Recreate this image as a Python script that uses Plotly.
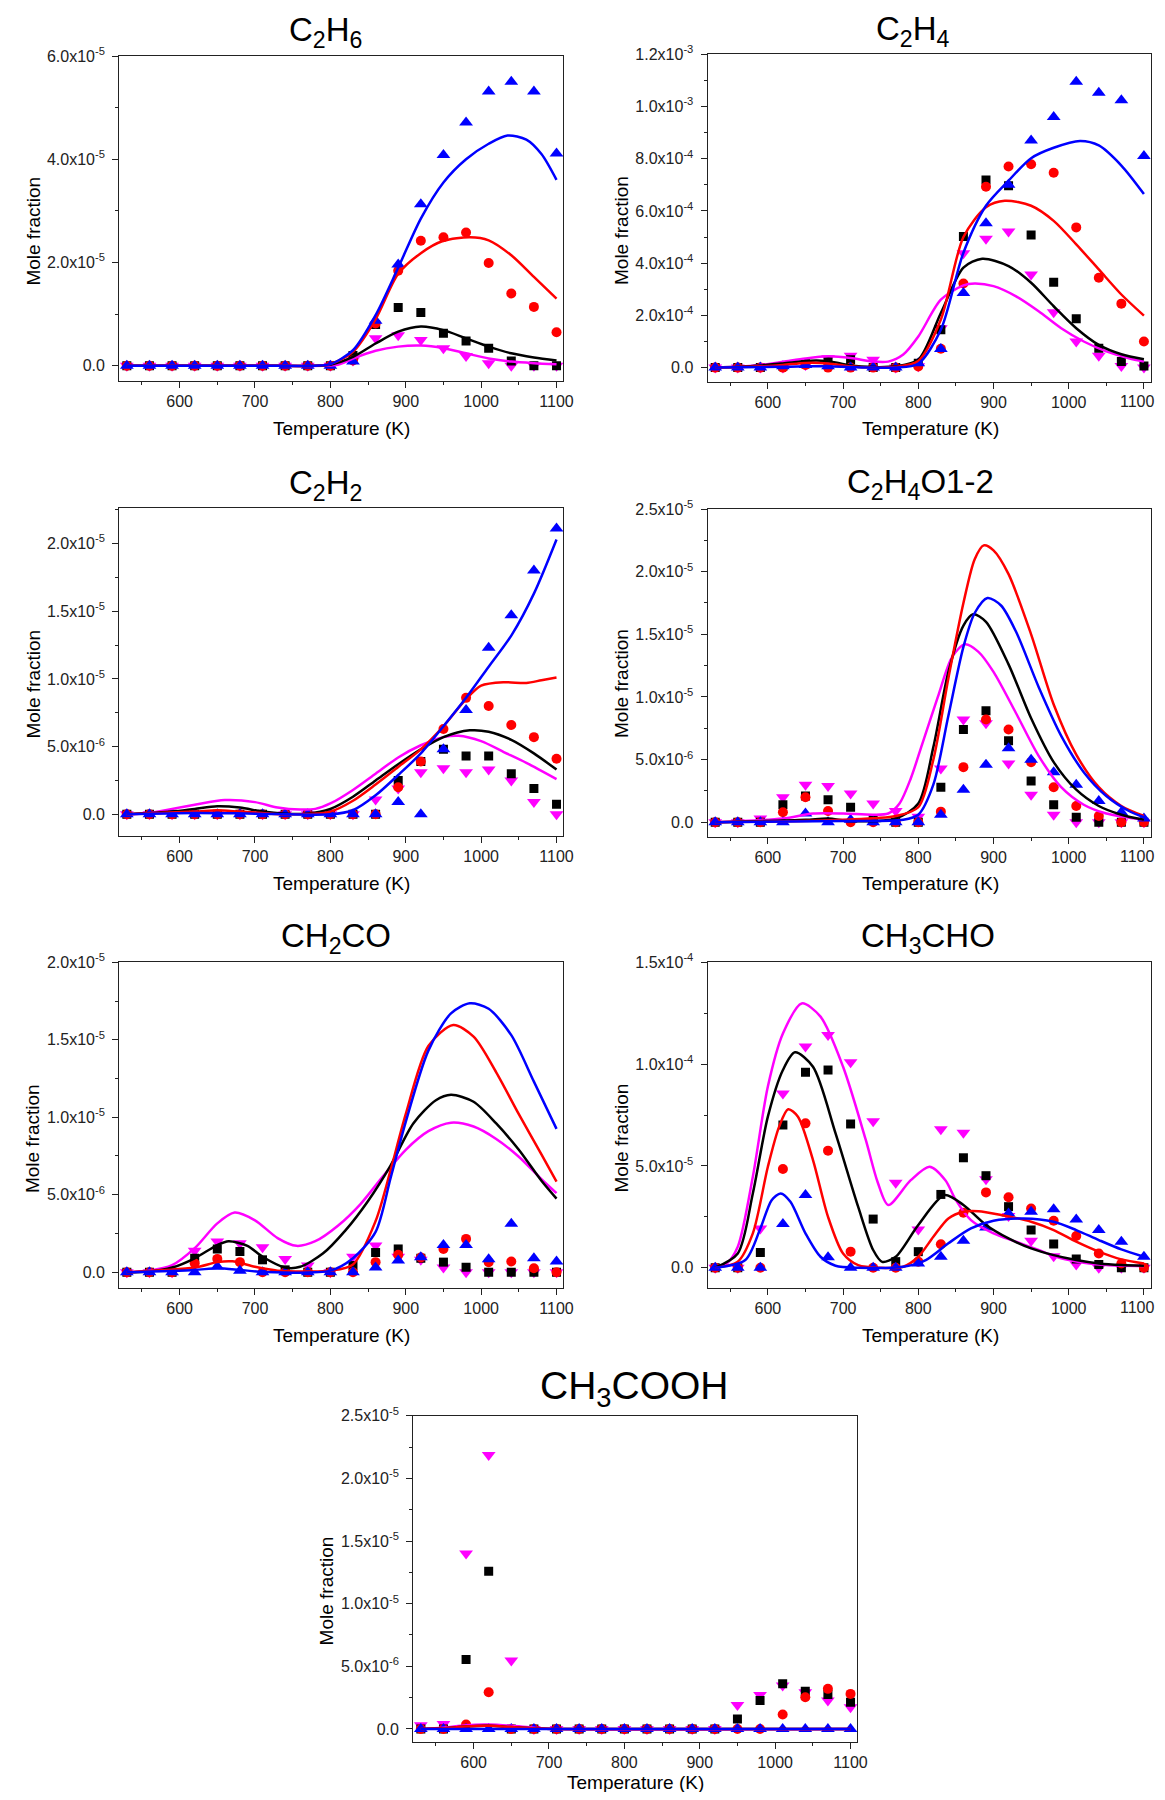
import plotly.graph_objects as go

# ---------------- data ----------------
T = [530, 560, 590, 620, 650, 680, 710, 740, 770, 800,
     830, 860, 890, 920, 950, 980, 1010, 1040, 1070, 1100]

# C2H6 (unit 1e-5)
C2H6_unit = 1e-5
C2H6_sq = [0, 0, 0, 0, 0, 0, 0, 0, 0, 0, 0.2, 0.8, 1.13, 1.03, 0.63, 0.48, 0.34, 0.09, 0, 0]
C2H6_ci = [0, 0, 0, 0, 0, 0, 0, 0, 0, 0, 0.1, 0.82, 1.84, 2.42, 2.49, 2.58, 1.99, 1.40, 1.14, 0.65]
C2H6_up = [0, 0, 0, 0, 0, 0, 0, 0, 0, 0, 0.08, 0.87, 1.96, 3.13, 4.08, 4.71, 5.31, 5.50, 5.31, 4.11]
C2H6_dn = [0, 0, 0, 0, 0, 0, 0, 0, 0, 0, 0.1, 0.53, 0.59, 0.50, 0.34, 0.19, 0.05, 0, 0, 0]
C2H6_k_x = [530, 700, 780, 800, 830, 860, 890, 920, 950, 980, 1010, 1040, 1070, 1100]
C2H6_k_y = [0, 0, 0, 0.02, 0.17, 0.43, 0.66, 0.76, 0.69, 0.53, 0.37, 0.24, 0.16, 0.10]
C2H6_r_x = [530, 700, 780, 800, 830, 860, 890, 920, 950, 985, 1010, 1040, 1070, 1100]
C2H6_r_y = [0, 0, 0, 0.03, 0.27, 0.9, 1.78, 2.18, 2.42, 2.49, 2.43, 2.14, 1.72, 1.30]
C2H6_b_x = [530, 700, 780, 800, 830, 860, 890, 920, 950, 980, 1010, 1035, 1060, 1080, 1100]
C2H6_b_y = [0, 0, 0, 0.03, 0.3, 0.98, 1.9, 2.85, 3.55, 4.0, 4.3, 4.46, 4.38, 4.1, 3.6]
C2H6_m_x = [530, 700, 790, 810, 830, 860, 890, 920, 950, 980, 1010, 1040, 1070, 1100]
C2H6_m_y = [0, 0, 0, 0.02, 0.14, 0.29, 0.37, 0.39, 0.34, 0.24, 0.14, 0.08, 0.05, 0.03]
C2H6_ytv = [0, 2e-5, 4e-5, 6e-5]
C2H6_ytt = ["0.0", "2.0x10<sup>-5</sup>", "4.0x10<sup>-5</sup>", "6.0x10<sup>-5</sup>"]

# C2H4 (unit 1e-4)
C2H4_unit = 1e-4
C2H4_sq = [0, 0, 0, 0.05, 0.15, 0.27, 0.3, 0, 0, 0.17, 1.45, 5.02, 7.19, 6.97, 5.08, 3.27, 1.87, 0.74, 0.23, 0.06]
C2H4_ci = [0, 0, 0, 0, 0.1, 0, 0, 0, 0, 0.04, 0.72, 3.22, 6.93, 7.70, 7.79, 7.46, 5.37, 3.44, 2.45, 1.0]
C2H4_up = [0, 0, 0, 0.05, 0.1, 0.05, 0, 0, 0, 0.17, 0.71, 2.86, 5.53, 7.0, 8.70, 9.60, 10.95, 10.53, 10.24, 8.10]
C2H4_dn = [0, 0, 0, 0, 0.1, 0.36, 0.45, 0.3, 0, 0.05, 1.51, 4.38, 4.94, 5.21, 3.57, 2.12, 1.0, 0.45, 0.06, 0]
C2H4_k_x = [530, 560, 590, 620, 650, 665, 690, 710, 740, 770, 800, 830, 860, 885, 920, 950, 980, 1010, 1040, 1070, 1100]
C2H4_k_y = [0, 0.03, 0.08, 0.16, 0.25, 0.27, 0.2, 0.08, 0.02, 0.05, 0.3, 2.09, 3.83, 4.17, 3.89, 3.25, 2.35, 1.51, 0.87, 0.51, 0.32]
C2H4_r_x = [530, 590, 620, 650, 680, 710, 740, 770, 800, 830, 860, 890, 915, 950, 980, 1010, 1040, 1070, 1100]
C2H4_r_y = [0, 0.05, 0.1, 0.18, 0.16, 0.05, 0, 0.03, 0.25, 1.84, 5.0, 6.14, 6.39, 6.2, 5.62, 4.72, 3.76, 2.8, 1.99]
C2H4_b_x = [530, 620, 650, 680, 710, 740, 770, 800, 830, 860, 890, 920, 950, 980, 1015, 1040, 1070, 1100]
C2H4_b_y = [0, 0.03, 0.05, 0.05, 0.02, 0, 0, 0.15, 1.45, 4.4, 6.2, 7.16, 8.02, 8.42, 8.68, 8.51, 7.74, 6.65]
C2H4_m_x = [530, 560, 590, 620, 650, 680, 710, 740, 760, 780, 800, 830, 860, 875, 900, 930, 960, 990, 1020, 1050, 1080, 1100]
C2H4_m_y = [0, 0.03, 0.1, 0.22, 0.35, 0.43, 0.37, 0.23, 0.23, 0.5, 1.19, 2.6, 3.15, 3.22, 3.12, 2.73, 2.16, 1.51, 1.0, 0.62, 0.36, 0.23]
C2H4_ytv = [0, 2e-4, 4e-4, 6e-4, 8e-4, 1e-3, 1.2e-3]
C2H4_ytt = ["0.0", "2.0x10<sup>-4</sup>", "4.0x10<sup>-4</sup>", "6.0x10<sup>-4</sup>",
            "8.0x10<sup>-4</sup>", "1.0x10<sup>-3</sup>", "1.2x10<sup>-3</sup>"]

# C2H2 (unit 1e-5)
C2H2_unit = 1e-5
C2H2_sq = [0, 0, 0, 0, 0, 0, 0, 0, 0, 0, 0, 0, 0.25, 0.39, 0.48, 0.43, 0.43, 0.30, 0.19, 0.074]
C2H2_ci = [0, 0, 0, 0, 0, 0, 0, 0, 0, 0, 0, 0, 0.2, 0.39, 0.63, 0.86, 0.80, 0.66, 0.57, 0.41]
C2H2_up = [0, 0, 0, 0, 0, 0, 0, 0, 0, 0, 0, 0, 0.09, 0, 0.48, 0.77, 1.23, 1.47, 1.80, 2.11]
C2H2_dn = [0, 0, 0, 0, 0, 0, 0, 0, 0, 0, 0, 0.11, 0.19, 0.31, 0.34, 0.31, 0.33, 0.25, 0.09, 0]
C2H2_k_x = [530, 590, 620, 650, 680, 710, 740, 770, 800, 830, 860, 890, 920, 950, 985, 1010, 1040, 1070, 1100]
C2H2_k_y = [0, 0.02, 0.04, 0.06, 0.05, 0.02, 0.005, 0.005, 0.04, 0.13, 0.25, 0.37, 0.48, 0.57, 0.62, 0.61, 0.55, 0.45, 0.33]
C2H2_r_x = [530, 620, 650, 680, 710, 740, 800, 830, 860, 890, 920, 950, 980, 1000, 1030, 1060, 1080, 1100]
C2H2_r_y = [0, 0.02, 0.03, 0.02, 0.01, 0, 0.02, 0.1, 0.22, 0.35, 0.48, 0.65, 0.85, 0.95, 0.975, 0.97, 0.99, 1.01]
C2H2_b_x = [530, 620, 700, 800, 830, 860, 890, 920, 950, 980, 1010, 1040, 1070, 1100]
C2H2_b_y = [0, 0.01, 0.005, 0, 0.03, 0.14, 0.29, 0.45, 0.65, 0.86, 1.09, 1.32, 1.63, 2.03]
C2H2_m_x = [530, 560, 590, 620, 660, 700, 730, 760, 780, 800, 830, 860, 890, 920, 950, 970, 1000, 1030, 1060, 1100]
C2H2_m_y = [0, 0.01, 0.04, 0.07, 0.105, 0.09, 0.05, 0.035, 0.04, 0.08, 0.18, 0.30, 0.42, 0.51, 0.57, 0.58, 0.54, 0.46, 0.38, 0.26]
C2H2_ytv = [0, 5e-6, 1e-5, 1.5e-5, 2e-5]
C2H2_ytt = ["0.0", "5.0x10<sup>-6</sup>", "1.0x10<sup>-5</sup>", "1.5x10<sup>-5</sup>", "2.0x10<sup>-5</sup>"]

# C2H4O1-2 (unit 1e-5)
C2H4O_unit = 1e-5
C2H4O_sq = [0, 0, 0, 0.14, 0.21, 0.18, 0.12, 0.03, 0, 0, 0.28, 0.74, 0.89, 0.65, 0.33, 0.14, 0.04, 0, 0, 0]
C2H4O_ci = [0, 0, 0, 0.08, 0.20, 0.09, 0, 0, 0, 0, 0.085, 0.44, 0.82, 0.74, 0.48, 0.28, 0.13, 0.05, 0, 0]
C2H4O_up = [0, 0, 0, 0, 0.07, 0, 0.02, 0, 0, 0, 0.06, 0.26, 0.46, 0.59, 0.50, 0.40, 0.30, 0.17, 0.08, 0.03]
C2H4O_dn = [0, 0, 0.03, 0.20, 0.30, 0.29, 0.23, 0.15, 0.09, 0.045, 0.43, 0.82, 0.79, 0.47, 0.22, 0.06, 0, 0, 0, 0]
C2H4O_k_x = [530, 650, 680, 710, 770, 800, 820, 840, 860, 873, 890, 920, 950, 980, 1010, 1040, 1070, 1100]
C2H4O_k_y = [0, 0.02, 0.03, 0.01, 0.03, 0.15, 0.6, 1.2, 1.57, 1.66, 1.6, 1.26, 0.83, 0.48, 0.26, 0.13, 0.06, 0.02]
C2H4O_r_x = [530, 700, 770, 800, 820, 840, 860, 875, 887, 900, 920, 950, 980, 1010, 1040, 1070, 1100]
C2H4O_r_y = [0, 0.02, 0.05, 0.12, 0.5, 1.15, 1.75, 2.1, 2.21, 2.17, 1.98, 1.5, 0.94, 0.54, 0.28, 0.13, 0.05]
C2H4O_b_x = [530, 700, 780, 800, 820, 840, 860, 875, 892, 910, 930, 960, 990, 1020, 1050, 1080, 1100]
C2H4O_b_y = [0, 0.01, 0.02, 0.06, 0.3, 0.85, 1.4, 1.67, 1.79, 1.73, 1.52, 1.08, 0.69, 0.40, 0.21, 0.09, 0.04]
C2H4O_m_x = [530, 620, 660, 700, 740, 760, 775, 790, 805, 826, 845, 862, 880, 900, 930, 960, 990, 1020, 1050, 1100]
C2H4O_m_y = [0, 0.03, 0.07, 0.07, 0.06, 0.07, 0.15, 0.35, 0.62, 1.0, 1.32, 1.42, 1.36, 1.2, 0.87, 0.53, 0.28, 0.14, 0.07, 0.02]
C2H4O_ytv = [0, 5e-6, 1e-5, 1.5e-5, 2e-5, 2.5e-5]
C2H4O_ytt = ["0.0", "5.0x10<sup>-6</sup>", "1.0x10<sup>-5</sup>", "1.5x10<sup>-5</sup>",
             "2.0x10<sup>-5</sup>", "2.5x10<sup>-5</sup>"]

# CH2CO (unit 1e-6)
CH2CO_unit = 1e-6
CH2CO_sq = [0, 0, 0, 0.9, 1.5, 1.33, 0.8, 0.15, 0, 0, 0.43, 1.27, 1.5, 0.9, 0.65, 0.32, 0, 0, 0, 0]
CH2CO_ci = [0, 0, 0, 0.58, 0.86, 0.65, 0, 0, 0, 0, 0, 0.65, 1.12, 0.95, 1.5, 2.15, 0.65, 0.69, 0.26, 0]
CH2CO_up = [0, 0, 0, 0, 0.37, 0.1, 0, 0, 0, 0, 0, 0.3, 0.75, 0.97, 1.76, 1.76, 0.84, 3.12, 0.9, 0.69]
CH2CO_dn = [0, 0, 0, 1.38, 1.98, 1.87, 1.61, 0.86, 0.43, 0, 1.0, 1.72, 1.0, 0.8, 0.3, 0, 0, 0, 0, 0]
CH2CO_k_x = [530, 560, 590, 620, 650, 665, 690, 710, 740, 760, 790, 820, 850, 880, 910, 940, 960, 990, 1020, 1050, 1080, 1100]
CH2CO_k_y = [0, 0.05, 0.3, 0.9, 1.75, 2.0, 1.7, 1.0, 0.3, 0.35, 1.2, 2.7, 4.6, 6.9, 9.6, 11.1, 11.45, 11.0, 9.6, 7.9, 5.9, 4.75]
CH2CO_r_x = [530, 620, 650, 670, 700, 730, 770, 800, 830, 860, 880, 900, 930, 963, 990, 1020, 1050, 1080, 1100]
CH2CO_r_y = [0, 0.3, 0.65, 0.7, 0.35, 0.1, 0.05, 0.1, 0.5, 3.3, 6.6, 10.2, 14.6, 15.95, 15.2, 12.9, 10.2, 7.6, 5.85]
CH2CO_b_x = [530, 620, 650, 680, 710, 800, 830, 860, 880, 900, 930, 960, 985, 1010, 1040, 1070, 1100]
CH2CO_b_y = [0, 0.15, 0.25, 0.15, 0.02, 0.1, 0.9, 2.6, 6.1, 9.7, 14.3, 16.7, 17.35, 17.0, 15.3, 12.3, 9.25]
CH2CO_m_x = [530, 560, 590, 620, 650, 673, 700, 730, 755, 780, 810, 840, 870, 900, 930, 960, 990, 1020, 1050, 1080, 1100]
CH2CO_m_y = [0, 0.1, 0.45, 1.55, 3.15, 3.85, 3.35, 2.2, 1.7, 2.0, 3.0, 4.4, 6.2, 7.9, 9.1, 9.65, 9.4, 8.6, 7.45, 6.0, 5.1]
CH2CO_ytv = [0, 5e-6, 1e-5, 1.5e-5, 2e-5]
CH2CO_ytt = ["0.0", "5.0x10<sup>-6</sup>", "1.0x10<sup>-5</sup>", "1.5x10<sup>-5</sup>", "2.0x10<sup>-5</sup>"]

# CH3CHO (unit 1e-5)
CH3CHO_unit = 1e-5
CH3CHO_sq = [0, 0, 0.75, 7.01, 9.6, 9.71, 7.06, 2.39, 0.3, 0.79, 3.6, 5.4, 4.52, 3.0, 1.85, 1.16, 0.43, 0.16, 0, 0]
CH3CHO_ci = [0, 0, 0, 4.85, 7.09, 5.75, 0.79, 0, 0, 0.3, 1.15, 2.7, 3.7, 3.46, 2.91, 2.31, 1.56, 0.7, 0.21, 0]
CH3CHO_up = [0, 0, 0, 2.15, 3.57, 0.51, 0, 0, 0, 0.21, 0.54, 1.33, 1.98, 2.67, 2.75, 2.87, 2.37, 1.85, 1.28, 0.54]
CH3CHO_dn = [0, 0, 1.93, 8.56, 10.86, 11.43, 10.09, 7.2, 4.18, 1.88, 6.8, 6.63, 4.34, 2.54, 1.33, 0.57, 0.16, 0, 0, 0]
CH3CHO_k_x = [530, 560, 580, 600, 620, 636, 660, 690, 720, 740, 752, 770, 800, 835, 860, 890, 920, 950, 980, 1010, 1040, 1070, 1100]
CH3CHO_k_y = [0, 0.7, 3.65, 7.42, 9.71, 10.58, 9.87, 6.6, 3.0, 0.87, 0.29, 0.54, 2.1, 3.57, 3.08, 2.1, 1.44, 0.95, 0.62, 0.38, 0.21, 0.13, 0.1]
CH3CHO_r_x = [530, 560, 580, 600, 615, 627, 640, 660, 680, 700, 720, 750, 780, 800, 820, 840, 860, 880, 910, 950, 980, 1010, 1040, 1070, 1100]
CH3CHO_r_y = [0, 0.3, 1.69, 4.96, 6.93, 7.78, 7.42, 5.29, 2.5, 0.7, 0.13, 0, 0.05, 0.54, 1.52, 2.42, 2.75, 2.78, 2.59, 2.26, 1.85, 1.28, 0.79, 0.41, 0.21]
CH3CHO_b_x = [530, 570, 590, 605, 617, 630, 650, 670, 690, 720, 780, 810, 840, 870, 900, 940, 980, 1010, 1040, 1070, 1100]
CH3CHO_b_y = [0, 0.38, 1.93, 3.32, 3.65, 3.24, 1.69, 0.54, 0.1, 0, 0.05, 0.38, 1.2, 1.93, 2.31, 2.42, 2.26, 1.85, 1.36, 0.9, 0.54]
CH3CHO_m_x = [530, 545, 560, 580, 600, 620, 645, 670, 700, 730, 746, 760, 790, 815, 836, 850, 870, 900, 930, 960, 990, 1020, 1050, 1100]
CH3CHO_m_y = [0, 0.2, 1.03, 4.47, 8.9, 11.5, 12.98, 12.33, 9.87, 6.3, 4.2, 3.08, 4.3, 4.96, 4.3, 3.32, 2.34, 1.69, 1.28, 0.87, 0.46, 0.25, 0.13, 0.08]
CH3CHO_ytv = [0, 5e-5, 1e-4, 1.5e-4]
CH3CHO_ytt = ["0.0", "5.0x10<sup>-5</sup>", "1.0x10<sup>-4</sup>", "1.5x10<sup>-4</sup>"]

# CH3COOH (unit 1e-6)
CH3COOH_unit = 1e-6
CH3COOH_sq = [0, 0, 5.54, 12.58, 0, 0, 0, 0, 0, 0, 0, 0, 0, 0, 0.8, 2.27, 3.6, 3.01, 2.75, 2.13]
CH3COOH_ci = [0, 0, 0.35, 2.93, 0, 0, 0, 0, 0, 0, 0, 0, 0, 0, 0, 0, 1.15, 2.53, 3.2, 2.8]
CH3COOH_up = [0, 0, 0, 0, 0, 0, 0, 0, 0, 0, 0, 0, 0, 0, 0, 0, 0, 0, 0, 0]
CH3COOH_dn = [0.3, 0.4, 14.0, 21.86, 5.46, 0, 0, 0, 0, 0, 0, 0, 0, 0, 1.92, 2.72, 3.46, 2.93, 2.27, 1.73]
CH3COOH_k_x = [530, 560, 590, 620, 650, 680, 710, 1100]
CH3COOH_k_y = [0, 0.05, 0.2, 0.25, 0.15, 0.05, 0, 0]
CH3COOH_r_x = [530, 560, 590, 620, 650, 680, 710, 1100]
CH3COOH_r_y = [0, 0.05, 0.2, 0.25, 0.15, 0.05, 0, 0]
CH3COOH_b_x = [530, 1100]
CH3COOH_b_y = [0, 0]
CH3COOH_m_x = [530, 560, 590, 620, 650, 680, 710, 1100]
CH3COOH_m_y = [0, 0.1, 0.3, 0.35, 0.25, 0.1, 0, 0]
CH3COOH_ytv = [0, 5e-6, 1e-5, 1.5e-5, 2e-5, 2.5e-5]
CH3COOH_ytt = ["0.0", "5.0x10<sup>-6</sup>", "1.0x10<sup>-5</sup>", "1.5x10<sup>-5</sup>",
               "2.0x10<sup>-5</sup>", "2.5x10<sup>-5</sup>"]

X_TICKS = [600, 700, 800, 900, 1000, 1100]
TITLES = ["C<sub>2</sub>H<sub>6</sub>", "C<sub>2</sub>H<sub>4</sub>", "C<sub>2</sub>H<sub>2</sub>",
          "C<sub>2</sub>H<sub>4</sub>O1-2", "CH<sub>2</sub>CO", "CH<sub>3</sub>CHO", "CH<sub>3</sub>COOH"]

# ---------------- layout geometry (page pixels of the 1165x1800 window) ----------------
PAGE_W, PAGE_H = 1165, 1800
OFF = 8                      # default body margin of the html page
W, H = PAGE_W - 2 * OFF, PAGE_H - 2 * OFF
# (left, right, top, bottom) of each plot area, page pixels
BOXES = [(119.3, 563.3, 56.0, 380.7), (707.7, 1150.7, 54.3, 381.7),
         (119.3, 563.3, 508.3, 835.7), (707.7, 1150.7, 509.0, 836.7),
         (119.3, 563.3, 962.3, 1287.7), (707.7, 1150.7, 962.3, 1287.7),
         (413.3, 857.3, 1415.7, 1741.5)]
RIGHT_COL = [False, True, False, True, False, True, False]   # last x label reaches the page edge
YRANGES = [(-2.9e-6, 6e-5), (-5.4e-5, 1.2e-3), (-1.58e-6, 2.26e-5), (-1.15e-6, 2.5e-5),
           (-1.0e-6, 2.0e-5), (-9.8e-6, 1.5e-4), (-1.0e-6, 2.5e-5)]
YMINOR = [1e-5, 1e-4, 2.5e-6, 2.5e-6, 2.5e-6, 2.5e-5, 2.5e-6]
TITLE_POS = [(325, 32.5, 33), (913, 31.5, 33), (325, 485, 33), (920, 484, 33),
             (336, 937.5, 33), (928, 937.5, 33), (634, 1388, 39)]
YT_POS = [(32.6, 231), (621, 231), (32.6, 684), (621, 684), (32.6, 1138.5), (621, 1138.5), (326.4, 1591)]
XT_POS = [(341.7, 428), (930, 428), (341.7, 883), (930, 883), (341.7, 1335), (930, 1335), (635.5, 1782)]
TICKFONT = 16


def px(x):
    return (x - OFF) / W


def py(y):
    return 1 - (y - OFF) / H


panels = []
for pre in ["C2H6", "C2H4", "C2H2", "C2H4O", "CH2CO", "CH3CHO", "CH3COOH"]:
    g = globals()
    panels.append(dict(
        unit=g[pre + "_unit"],
        sq=g[pre + "_sq"], ci=g[pre + "_ci"], up=g[pre + "_up"], dn=g[pre + "_dn"],
        k=(g[pre + "_k_x"], g[pre + "_k_y"]), r=(g[pre + "_r_x"], g[pre + "_r_y"]),
        b=(g[pre + "_b_x"], g[pre + "_b_y"]), m=(g[pre + "_m_x"], g[pre + "_m_y"]),
        ytv=g[pre + "_ytv"], ytt=g[pre + "_ytt"]))

BLACK, RED, BLUE, MAG = "#000000", "#FF0000", "#0000FF", "#FF00FF"
FONT = "Arial, Liberation Sans, Helvetica, sans-serif"

fig = go.Figure()
annotations = []
for i, p in enumerate(panels):
    n = "" if i == 0 else str(i + 1)
    xa, ya = "x" + n, "y" + n
    u = p["unit"]
    # measured points
    for vals, sym, col, sz in [(p["dn"], "triangle-down", MAG, 12), (p["sq"], "square", BLACK, 9),
                               (p["ci"], "circle", RED, 10), (p["up"], "triangle-up", BLUE, 12)]:
        fig.add_trace(go.Scatter(x=T, y=[v * u for v in vals], mode="markers", xaxis=xa, yaxis=ya,
                                 marker=dict(symbol=sym, color=col, size=sz, line=dict(width=0)),
                                 showlegend=False, hoverinfo="skip"))
    # model lines
    for (lx, ly), col in [(p["m"], MAG), (p["k"], BLACK), (p["r"], RED), (p["b"], BLUE)]:
        fig.add_trace(go.Scatter(x=lx, y=[v * u for v in ly], mode="lines", xaxis=xa, yaxis=ya,
                                 line=dict(color=col, width=2.5, shape="spline", smoothing=0.8),
                                 showlegend=False, hoverinfo="skip"))
    l, r, t, b = BOXES[i]
    axis_common = dict(showline=True, linecolor="#222", linewidth=1.3, mirror=True,
                       ticks="outside", ticklen=6, tickwidth=1.2, tickcolor="#222",
                       showgrid=False, zeroline=False, automargin=False,
                       tickfont=dict(family=FONT, size=TICKFONT, color="#222"))
    xtext = [str(v) for v in X_TICKS]
    if RIGHT_COL[i]:
        xtext[-1] = ""   # drawn below as a right-aligned label so it stays inside the page
    fig.layout["xaxis" + n] = dict(
        domain=[px(l), px(r)], range=[520, 1109], anchor=ya,
        tickmode="array", tickvals=X_TICKS, ticktext=xtext,
        minor=dict(tickmode="linear", tick0=550, dtick=100, ticklen=3, ticks="outside",
                   tickcolor="#222", showgrid=False),
        ticklabelstandoff=0, **axis_common)
    fig.layout["yaxis" + n] = dict(
        domain=[py(b), py(t)], range=list(YRANGES[i]), anchor=xa,
        tickmode="array", tickvals=p["ytv"], ticktext=p["ytt"],
        minor=dict(tickmode="linear", tick0=YMINOR[i], dtick=2 * YMINOR[i], ticklen=3,
                   ticks="outside", tickcolor="#222", showgrid=False),
        ticklabelstandoff=4, **axis_common)
    if RIGHT_COL[i]:
        annotations.append(dict(text=str(X_TICKS[-1]), x=1.0, y=py(b + 20), xref="paper", yref="paper",
                                xanchor="right", yanchor="middle", showarrow=False,
                                font=dict(family=FONT, size=TICKFONT, color="#222")))
    tx, ty, ts = TITLE_POS[i]
    annotations.append(dict(text=TITLES[i], x=px(tx), y=py(ty), xref="paper", yref="paper",
                            xanchor="center", yanchor="middle", showarrow=False,
                            font=dict(family=FONT, size=ts, color="#000")))
    yx, yy = YT_POS[i]
    annotations.append(dict(text="Mole fraction", x=px(yx), y=py(yy), xref="paper", yref="paper",
                            xanchor="center", yanchor="middle", textangle=-90, showarrow=False,
                            font=dict(family=FONT, size=19, color="#000")))
    xx, xy = XT_POS[i]
    annotations.append(dict(text="Temperature (K)", x=px(xx), y=py(xy), xref="paper", yref="paper",
                            xanchor="center", yanchor="middle", showarrow=False,
                            font=dict(family=FONT, size=19, color="#000")))

fig.update_layout(width=W, height=H, margin=dict(l=0, r=0, t=0, b=0, autoexpand=False),
                  paper_bgcolor="white", plot_bgcolor="white",
                  annotations=annotations, showlegend=False)
fig.write_html("out.html")
